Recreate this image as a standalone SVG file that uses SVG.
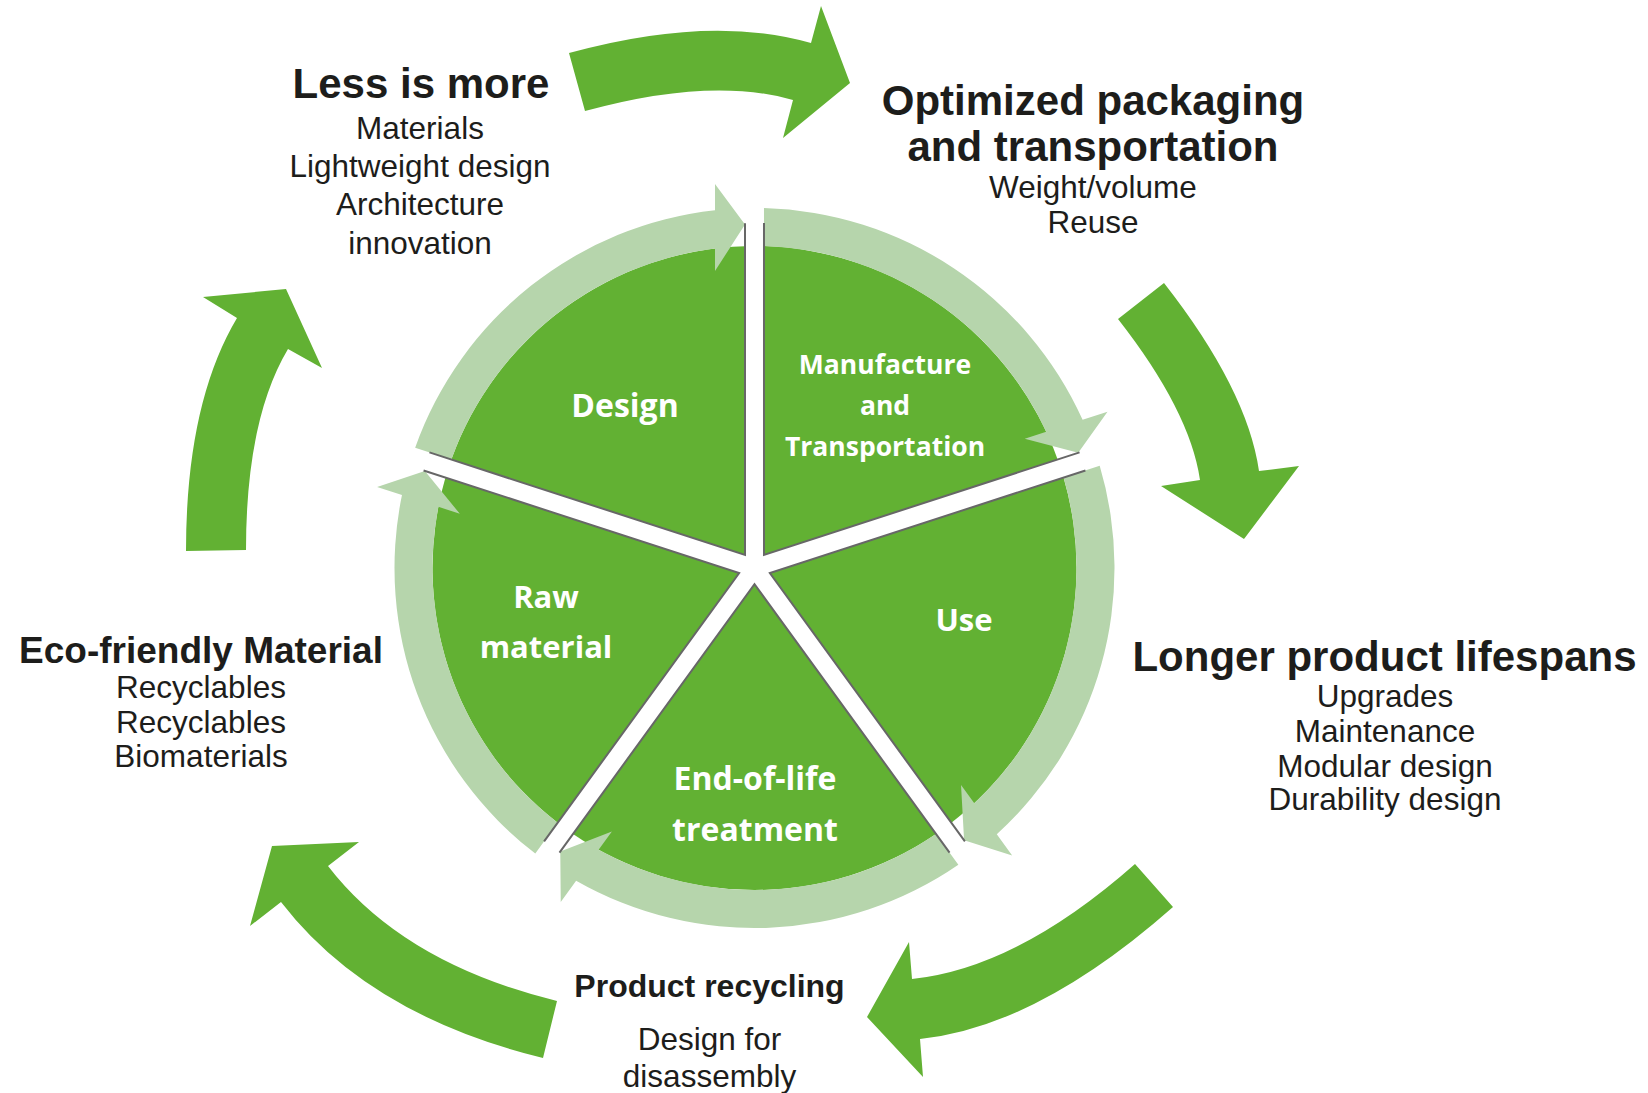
<svg xmlns="http://www.w3.org/2000/svg" xmlns:xlink="http://www.w3.org/1999/xlink" width="1648" height="1093" viewBox="0 0 1648 1093">
<style>
.sec{fill:#62b133}
.ring{fill:#b6d5ac}
.edge{fill:none;stroke:#676767;stroke-width:2}
.arr{fill:#62b133}
.lbl{font-family:"Open Sans","Noto Sans",sans-serif;font-weight:700;fill:#ffffff;text-anchor:middle}
.title{font-family:"Liberation Sans",Arial,sans-serif;font-weight:700;fill:#1d1d1b;text-anchor:middle}
.t42{font-size:42px}
.t37{font-size:37px}
.t32{font-size:32px}
.sub{font-family:"Liberation Sans",Arial,sans-serif;fill:#1d1d1b;text-anchor:middle;font-size:31.5px}
</style>
<defs>
<path id="sector" class="sec" d="M-9.5,-13.07 L-303.19,-108.49 A322,322 0 0 1 -9.5,-321.86 Z"/>
<path id="ring" class="ring" d="M-303.19,-108.49 L-339.34,-120.23 A360,360 0 0 1 -39.5,-357.83 L-39.5,-384 L-9.5,-343.5 L-39.5,-297 L-39.5,-319.57 A322,322 0 0 0 -303.19,-108.49 Z"/>
<path id="edge" class="edge" d="M-325.07,-115.6 L-9.5,-13.07 L-9.5,-344.87"/>
</defs>
<rect width="1648" height="1093" fill="#ffffff"/>

<g id="connectors">
<path class="arr" d="M569,53 Q710.4,14 811,43 L821,6 L850,83 L783,138 L793,100 Q710.8,76.3 585,111 Z"/>
<path class="arr" d="M1164,283 Q1247.2,389.3 1259,471 L1299,466 L1244,539 L1161,486 L1200,480 Q1190,411 1118,319 Z"/>
<path class="arr" d="M1135,864 Q1017.2,968.1 912,979 L909,942 L867,1017 L923,1077 L920,1039 Q1037.4,1026.8 1173,907 Z"/>
<path class="arr" d="M557,1001 Q402.9,963.2 328,866 L359,842 L272,846 L250,926 L281,902 Q368.2,1015.2 543,1058 Z"/>
<path class="arr" d="M186,551 Q186,403.6 237,318 L203,297 L286,289 L322,368 L288,349 Q246,419.4 246,550 Z"/>
</g>

<g id="design">
<g transform="translate(754.5 568)"><use xlink:href="#sector"/><use xlink:href="#ring"/><use xlink:href="#edge"/></g>
<text class="lbl" x="625" y="417" font-size="32">Design</text>
</g>
<g id="manufacture">
<g transform="translate(754.5 568) rotate(72)"><use xlink:href="#sector"/><use xlink:href="#ring"/><use xlink:href="#edge"/></g>
<text class="lbl" font-size="26.5"><tspan x="885" y="374">Manufacture</tspan><tspan x="885" y="415">and</tspan><tspan x="885" y="456">Transportation</tspan></text>
</g>
<g id="use">
<g transform="translate(754.5 568) rotate(144)"><use xlink:href="#sector"/><use xlink:href="#ring"/><use xlink:href="#edge"/></g>
<text class="lbl" x="964" y="631" font-size="31">Use</text>
</g>
<g id="end-of-life">
<g transform="translate(754.5 568) rotate(216)"><use xlink:href="#sector"/><use xlink:href="#ring"/><use xlink:href="#edge"/></g>
<text class="lbl" font-size="32"><tspan x="755" y="790">End-of-life</tspan><tspan x="755" y="841">treatment</tspan></text>
</g>
<g id="raw-material">
<g transform="translate(754.5 568) rotate(288)"><use xlink:href="#sector"/><use xlink:href="#ring"/><use xlink:href="#edge"/></g>
<text class="lbl" font-size="31"><tspan x="546" y="608">Raw</tspan><tspan x="546" y="658">material</tspan></text>
</g>

<g id="less-is-more">
<text class="title t42" x="421" y="98">Less is more</text>
<text class="sub"><tspan x="420" y="139">Materials</tspan><tspan x="420" y="177">Lightweight design</tspan><tspan x="420" y="215">Architecture</tspan><tspan x="420" y="254">innovation</tspan></text>
</g>
<g id="optimized-packaging">
<text class="title t42"><tspan x="1093" y="115">Optimized packaging</tspan><tspan x="1093" y="161">and transportation</tspan></text>
<text class="sub"><tspan x="1093" y="198">Weight/volume</tspan><tspan x="1093" y="233">Reuse</tspan></text>
</g>
<g id="longer-lifespans">
<text class="title t42" x="1384.5" y="671">Longer product lifespans</text>
<text class="sub"><tspan x="1385" y="707">Upgrades</tspan><tspan x="1385" y="742">Maintenance</tspan><tspan x="1385" y="777">Modular design</tspan><tspan x="1385" y="810">Durability design</tspan></text>
</g>
<g id="product-recycling">
<text class="title t32" x="709.5" y="997">Product recycling</text>
<text class="sub"><tspan x="709.5" y="1050">Design for</tspan><tspan x="709.5" y="1087">disassembly</tspan></text>
</g>
<g id="eco-friendly">
<text class="title t37" x="201" y="663">Eco-friendly Material</text>
<text class="sub"><tspan x="201" y="698">Recyclables</tspan><tspan x="201" y="733">Recyclables</tspan><tspan x="201" y="767">Biomaterials</tspan></text>
</g>
</svg>
